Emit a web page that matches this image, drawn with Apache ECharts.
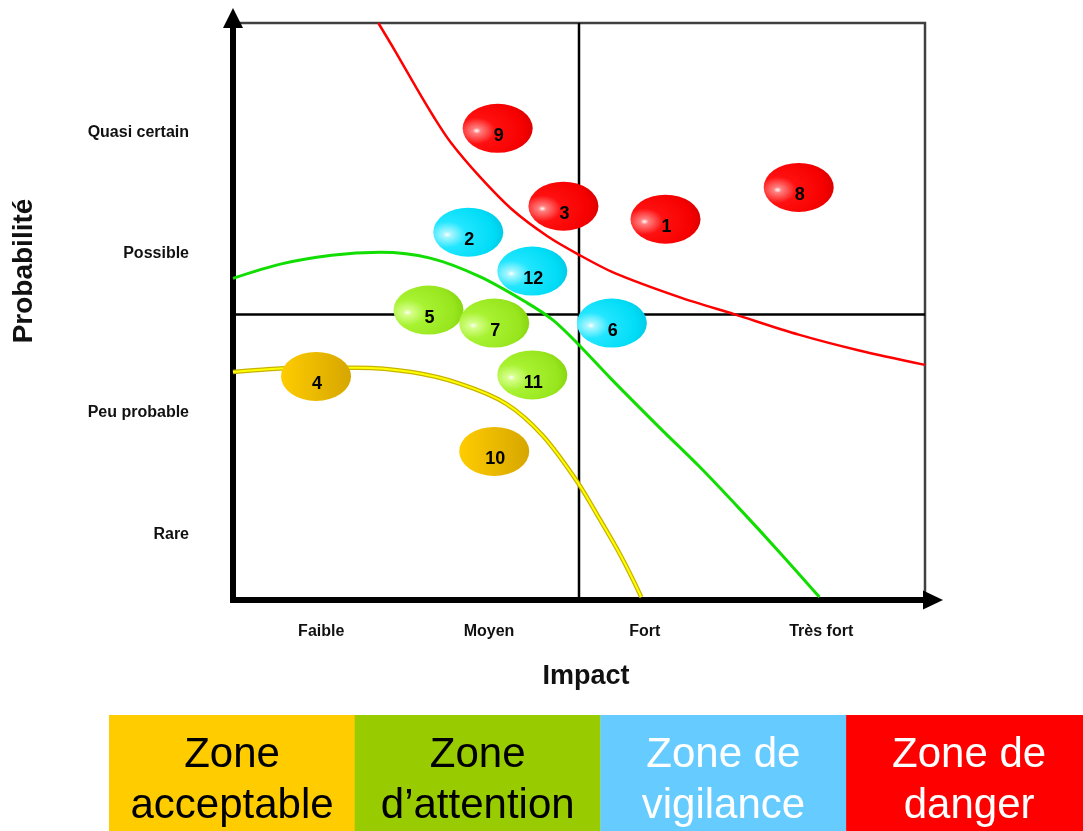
<!DOCTYPE html>
<html>
<head>
<meta charset="utf-8">
<script src="https://cdn.jsdelivr.net/npm/echarts@6/dist/echarts.min.js"></script>
<style>html,body{margin:0;padding:0;background:#fff;}#chart{width:1083px;height:831px;}</style>
</head>
<body>
<div id="chart"></div>
<script>
// ---- data ----
const impactLabels = ['Faible', 'Moyen', 'Fort', 'Très fort'];
const impactLabelPos = [0.51, 1.48, 2.38, 3.40];
const probLabels = ['Rare', 'Peu probable', 'Possible', 'Quasi certain'];
const probLabelPos = [0.45, 1.30, 2.40, 3.24];

const riskIds = [1, 2, 3, 4, 5, 6, 7, 8, 9, 10, 11, 12];
const riskImpact = [2.50, 1.36, 1.91, 0.48, 1.13, 2.19, 1.51, 3.27, 1.53, 1.51, 1.73, 1.73];
const riskProb = [2.64, 2.55, 2.73, 1.55, 2.01, 1.92, 1.92, 2.86, 3.27, 1.03, 1.56, 2.28];
const riskZone = ['danger', 'vigilance', 'danger', 'acceptable', 'attention', 'vigilance',
                  'attention', 'danger', 'danger', 'acceptable', 'attention', 'vigilance'];

const midImpact = 2.0;
const midProb = 1.98;

const redCurve = [[0.84, 4.0], [0.94, 3.80], [1.06, 3.55], [1.16, 3.35], [1.26, 3.17], [1.43, 2.93],
  [1.62, 2.70], [1.82, 2.52], [1.99, 2.40], [2.20, 2.27], [2.58, 2.10], [2.90, 1.98],
  [3.27, 1.84], [3.62, 1.73], [4.0, 1.63]];
const greenCurve = [[0, 2.23], [0.28, 2.33], [0.57, 2.39], [0.85, 2.41], [1.14, 2.37], [1.43, 2.24],
  [1.70, 2.06], [1.85, 1.94], [1.99, 1.78], [2.18, 1.54], [2.47, 1.19], [2.70, 0.92],
  [2.93, 0.63], [3.16, 0.33], [3.39, 0.02]];
const yellowCurve = [[0, 1.58], [0.20, 1.60], [0.45, 1.61], [0.72, 1.61], [1.03, 1.58], [1.31, 1.50],
  [1.58, 1.36], [1.79, 1.14], [1.99, 0.82], [2.12, 0.56], [2.24, 0.31], [2.36, 0.02]];

const zoneKeys = ['acceptable', 'attention', 'vigilance', 'danger'];
const zoneNames = ['Zone\nacceptable', 'Zone\nd\u2019attention', 'Zone de\nvigilance', 'Zone de\ndanger'];
const zoneColors = ['#FFCC00', '#99CC00', '#66CCFF', '#FF0000'];
const zoneTextColors = ['#000000', '#000000', '#ffffff', '#ffffff'];

// ---- styles ----
const FONT = 'Liberation Sans, Arial, sans-serif';
function sphere(stops) {
  return new echarts.graphic.RadialGradient(0.2, 0.55, 0.95, stops.map((c, i) => ({offset: [0, 0.06, 0.28, 0.7, 1][i], color: c})));
}
const bubbleFill = {
  danger: sphere(['#ffffff', '#ff8080', '#ff1010', '#f60000', '#c40000']),
  vigilance: sphere(['#ffffff', '#a8f6ff', '#22e6ff', '#00dcf6', '#00b8d8']),
  attention: sphere(['#ffffff', '#d6ff8c', '#a8f232', '#98e61e', '#76c600']),
  acceptable: new echarts.graphic.LinearGradient(0, 0, 1, 0, [{offset: 0, color: '#FFCC00'}, {offset: 1, color: '#D6A600'}])
};

const bubbleSeries = zoneKeys.map(z => ({
  type: 'scatter',
  name: z,
  z: 5,
  symbol: 'circle',
  symbolSize: [70, 49],
  clip: false,
  itemStyle: {color: bubbleFill[z], opacity: 1},
  label: {
    show: true, position: 'inside', offset: [1, 8],
    formatter: p => String(p.data.id),
    fontFamily: FONT, fontWeight: 'bold', fontSize: 18, color: '#000'
  },
  data: riskIds.map((id, i) => ({id: id, value: [riskImpact[i], riskProb[i]], zone: riskZone[i]}))
    .filter(d => d.zone === z)
}));

const curveBase = {type: 'line', z: 2, symbol: 'none', smooth: 0.3};

const option = {
  animation: false,
  backgroundColor: '#ffffff',
  grid: {left: 233, right: 158, top: 23, bottom: 231, show: true, borderColor: '#404040', borderWidth: 2.5},
  xAxis: {
    type: 'value', min: 0, max: 4,
    axisLine: {show: true, symbol: ['none', 'triangle'], symbolSize: [19, 20], symbolOffset: [0, 8],
      lineStyle: {color: '#000', width: 6, cap: 'square'}},
    axisTick: {show: false}, axisLabel: {show: false}, splitLine: {show: false}
  },
  yAxis: {
    type: 'value', min: 0, max: 4,
    axisLine: {show: true, symbol: ['none', 'triangle'], symbolSize: [20, 20], symbolOffset: [0, 5],
      lineStyle: {color: '#000', width: 6, cap: 'square'}},
    axisTick: {show: false}, axisLabel: {show: false}, splitLine: {show: false}
  },
  graphic: [
    {type: 'text', position: [586, 677], style: {text: 'Impact', fill: '#111', font: 'bold 27px ' + FONT, textAlign: 'center', textVerticalAlign: 'middle'}},
    {type: 'text', position: [24, 271], rotation: Math.PI / 2, style: {text: 'Probabilité', fill: '#111', font: 'bold 28px ' + FONT, textAlign: 'center', textVerticalAlign: 'middle'}}
  ].concat(zoneNames.map((n, i) => ({
    type: 'group', position: [109 + i * 245.7, 715],
    children: [
      {type: 'rect', shape: {x: 0, y: 0, width: 246, height: 120}, style: {fill: zoneColors[i]}},
      {type: 'text', position: [123, 66], style: {text: n, fill: zoneTextColors[i], font: '42px ' + FONT, lineHeight: 51, textAlign: 'center', textVerticalAlign: 'middle'}}
    ]
  }))),
  series: [
    {type: 'line', z: 1, symbol: 'none', lineStyle: {color: '#000', width: 2.5}, data: [[midImpact, 0], [midImpact, 4]]},
    {type: 'line', z: 1, symbol: 'none', lineStyle: {color: '#000', width: 2.5}, data: [[0, midProb], [4, midProb]]},
    Object.assign({}, curveBase, {lineStyle: {color: '#C8B200', width: 4.5}, data: yellowCurve}),
    Object.assign({}, curveBase, {lineStyle: {color: '#FFFF00', width: 2}, data: yellowCurve}),
    Object.assign({}, curveBase, {lineStyle: {color: '#11DD00', width: 3}, data: greenCurve}),
    Object.assign({}, curveBase, {lineStyle: {color: '#FF0000', width: 2.5}, data: redCurve})
  ].concat(bubbleSeries).concat([
    {
      type: 'scatter', z: 3, symbolSize: 0, clip: false, silent: true, itemStyle: {opacity: 1},
      label: {show: true, position: 'bottom', distance: 24, formatter: p => p.name,
        fontFamily: FONT, fontWeight: 'bold', fontSize: 16, color: '#111'},
      data: impactLabels.map((n, i) => ({name: n, value: [impactLabelPos[i], 0]}))
    },
    {
      type: 'scatter', z: 3, symbolSize: 0, clip: false, silent: true, itemStyle: {opacity: 1},
      label: {show: true, position: 'left', distance: 44, formatter: p => p.name,
        fontFamily: FONT, fontWeight: 'bold', fontSize: 16, color: '#111'},
      data: probLabels.map((n, i) => ({name: n, value: [0, probLabelPos[i]]}))
    }
  ])
};

const chart = echarts.init(document.getElementById('chart'), null, {renderer: 'canvas'});
chart.setOption(option);
</script>
</body>
</html>
